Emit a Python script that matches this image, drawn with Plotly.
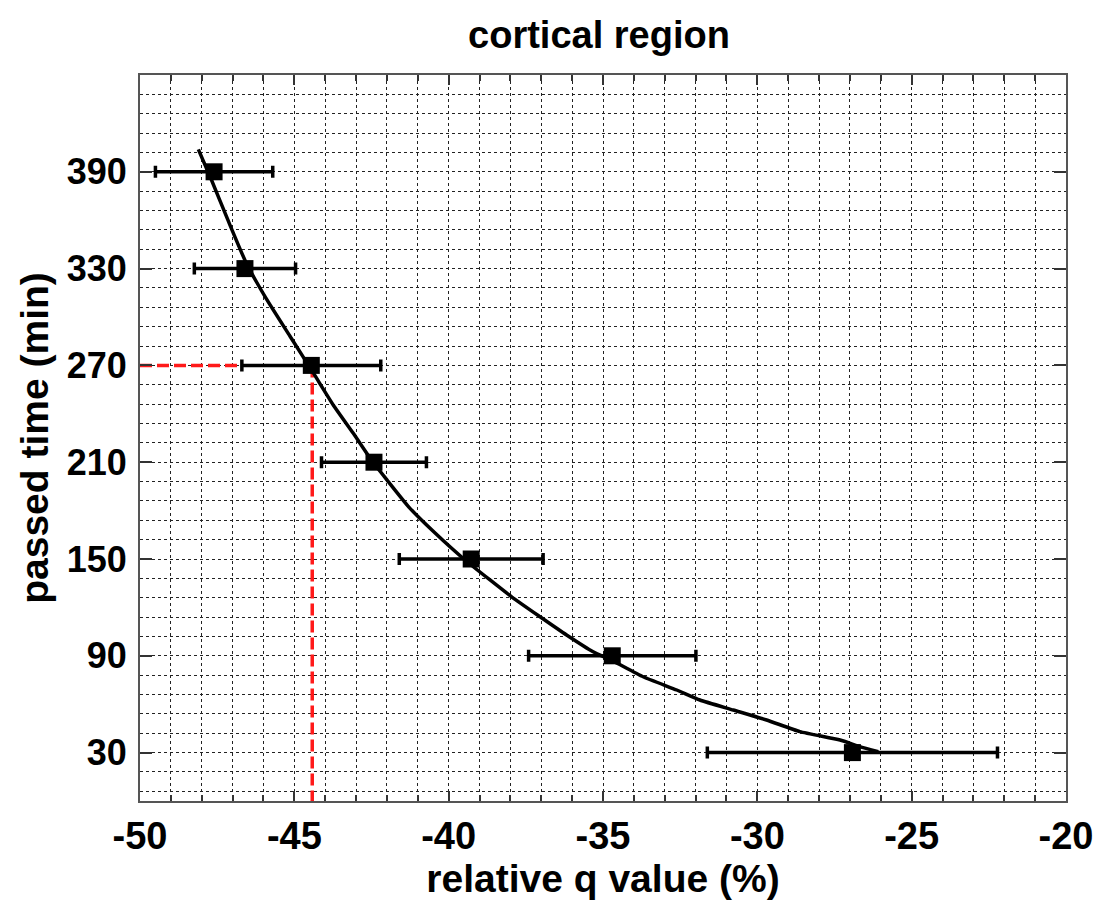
import plotly.graph_objects as go

# measured points
time_min = [390, 330, 270, 210, 150, 90, 30]
q_mean = [-47.6, -46.6, -44.45, -42.42, -39.27, -34.7, -26.92]
q_err = [1.9, 1.64, 2.25, 1.7, 2.33, 2.71, 4.7]

# fitted curve
curve_q = [-48.11, -47.68, -47.15, -46.57, -45.92, -45.14, -44.40, -43.74, -43.09,
           -42.48, -42.00, -41.29, -40.44, -39.47, -38.66, -37.95, -37.04, -36.18,
           -35.32, -34.68, -33.70, -32.61, -31.86, -30.78, -29.70, -28.62, -27.32,
           -26.68, -26.08]
curve_t = [403.9, 384.8, 360.0, 334.0, 311.7, 288.1, 265.8, 245.5, 227.9,
           210.7, 199.0, 182.2, 166.1, 149.4, 137.0, 126.4, 114.2, 102.9,
           92.5, 86.8, 77.0, 68.8, 62.6, 56.4, 50.2, 43.0, 37.8,
           33.7, 30.6]

# reference lines
ref_time = 270
ref_q = -44.42
ref_x_start = -50
ref_x_end = -46.76

x_range = [-50, -20]
y_range = [0, 450]
x_ticks = [-50, -45, -40, -35, -30, -25, -20]
x_ticktext = ["-50", "-45", "-40", "-35", "-30", "-25", "-20"]
y_ticks = [30, 90, 150, 210, 270, 330, 390]

FONT = "Liberation Sans"
GRID = dict(showgrid=True, gridcolor="#222", gridwidth=1, griddash="3px,3px")

fig = go.Figure()

fig.add_trace(go.Scatter(
    x=[ref_x_start, ref_x_end], y=[ref_time, ref_time], mode="lines",
    line=dict(color="#ff1a1a", width=3.5, dash="12px,5px"), hoverinfo="skip", showlegend=False))
fig.add_trace(go.Scatter(
    x=[ref_q, ref_q], y=[ref_time, y_range[0]], mode="lines",
    line=dict(color="#ff1a1a", width=3.5, dash="12px,5px"), hoverinfo="skip", showlegend=False))

fig.add_trace(go.Scatter(
    x=curve_q, y=curve_t, mode="lines",
    line=dict(color="black", width=3.5, shape="spline", smoothing=0.5), showlegend=False))

fig.add_trace(go.Scatter(
    x=q_mean, y=time_min, mode="markers",
    marker=dict(symbol="square", size=17, color="black"),
    error_x=dict(type="data", array=q_err, visible=True, color="black", thickness=3.5, width=6),
    showlegend=False))

fig.update_layout(
    width=1097, height=911,
    paper_bgcolor="white", plot_bgcolor="white",
    margin=dict(l=140, r=31, t=75, b=110),
    title=dict(text="cortical region", x=0.546, xanchor="center", y=0.9616, yanchor="middle",
               font=dict(family=FONT, size=38, color="black", weight="bold")),
    xaxis=dict(
        range=x_range, tickmode="array", tickvals=x_ticks, ticktext=x_ticktext,
        ticks="inside", ticklen=10, tickwidth=1.5, tickcolor="#333",
        showline=True, linecolor="#555", linewidth=2, mirror="ticks",
        zeroline=False, ticklabelstandoff=0, automargin=False,
        tickfont=dict(family=FONT, size=38, color="black", weight="bold"),
        title=dict(text="relative q value (%)", standoff=3,
                   font=dict(family=FONT, size=39, color="black", weight="bold")),
        minor=dict(dtick=1, tick0=-50, ticks="inside", ticklen=6, tickcolor="#333",
                   **GRID),
        **GRID),
    yaxis=dict(
        range=y_range, tickmode="array", tickvals=y_ticks,
        ticks="inside", ticklen=12, tickwidth=1.5, tickcolor="#333",
        showline=True, linecolor="#555", linewidth=2, mirror="ticks",
        zeroline=False, ticklabelstandoff=4, automargin=False,
        tickfont=dict(family=FONT, size=36, color="black", weight="bold"),
        title=dict(text="passed time (min)", standoff=6,
                   font=dict(family=FONT, size=39, color="black", weight="bold")),
        minor=dict(dtick=12, tick0=6, ticks="", **GRID),
        **GRID),
)

fig.write_html("out.html")
